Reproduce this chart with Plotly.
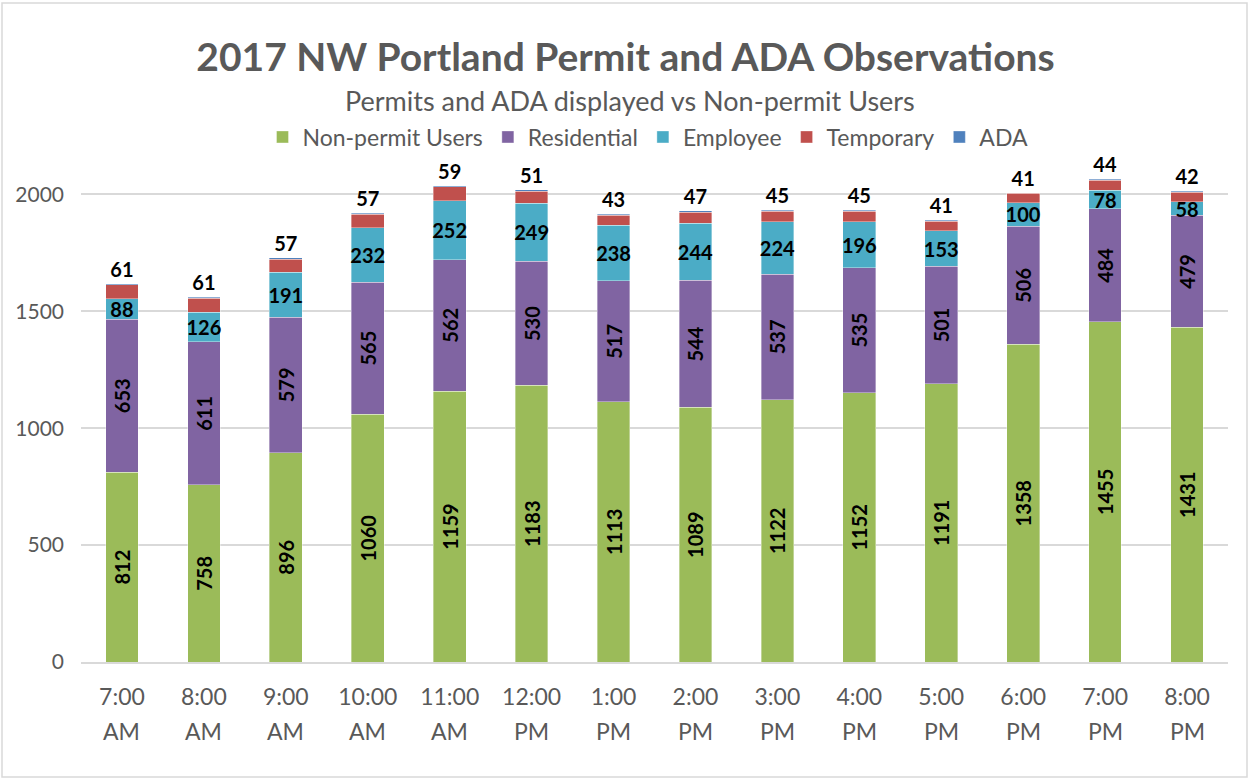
import plotly.graph_objects as go

hours = ["7:00", "8:00", "9:00", "10:00", "11:00", "12:00", "1:00", "2:00", "3:00", "4:00",
         "5:00", "6:00", "7:00", "8:00"]
periods = ["AM", "AM", "AM", "AM", "AM", "PM", "PM", "PM", "PM", "PM", "PM", "PM", "PM", "PM"]
categories = [f"{h} {p}" for h, p in zip(hours, periods)]
non_permit = [812, 758, 896, 1060, 1159, 1183, 1113, 1089, 1122, 1152, 1191, 1358, 1455, 1431]
residential = [653, 611, 579, 565, 562, 530, 517, 544, 537, 535, 501, 506, 484, 479]
employee = [88, 126, 191, 232, 252, 249, 238, 244, 224, 196, 153, 100, 78, 58]
temporary = [61, 61, 57, 57, 59, 51, 43, 47, 45, 45, 41, 41, 44, 42]
ada = [4, 4, 5, 5, 6, 7, 5, 5, 4, 5, 4, 3, 3, 4]

FONT = "Lato"
GRAY = "#595959"
label_font = dict(family=FONT, size=20, color="black", weight="bold")

PLOT_H = 491.0
PLOT_W = 1147.0

def py(px):
    return (662 - px) / PLOT_H

def pxp(px):
    return (px - 81) / PLOT_W

fig = go.Figure()
fig.add_trace(go.Bar(x=categories, y=non_permit, name="Non-permit Users", marker_color="#9BBB59",
                     text=non_permit, textposition="inside", textangle=-90, insidetextanchor="middle",
                     textfont=label_font))
fig.add_trace(go.Bar(x=categories, y=residential, name="Residential", marker_color="#8064A2",
                     text=residential, textposition="inside", textangle=-90, insidetextanchor="middle",
                     textfont=label_font))
fig.add_trace(go.Bar(x=categories, y=employee, name="Employee", marker_color="#4BACC6",
                     text=employee, textposition="inside", textangle=0, insidetextanchor="middle",
                     textfont=label_font))
fig.add_trace(go.Bar(x=categories, y=temporary, name="Temporary", marker_color="#C0504D"))
fig.add_trace(go.Bar(x=categories, y=ada, name="ADA", marker_color="#4F81BD",
                     text=temporary, textposition="outside", textangle=0,
                     outsidetextfont=label_font, cliponaxis=False))

fig.update_traces(marker_line_width=0.6, marker_line_color="rgba(255,255,255,0.6)")

annotations = [dict(text="Permits and ADA displayed vs Non-permit Users", xref="paper", yref="paper",
                    x=pxp(630), xanchor="center", y=py(100), yanchor="middle", showarrow=False,
                    font=dict(family=FONT, size=27, color=GRAY))]
for c, p in zip(categories, periods):
    annotations.append(dict(text=p, x=c, xref="x", y=py(731), yref="paper", yanchor="middle",
                            showarrow=False, font=dict(family=FONT, size=23, color=GRAY)))

fig.update_layout(
    barmode="stack",
    bargap=0.6,
    width=1251, height=780, autosize=False,
    margin=dict(l=81, r=23, t=171, b=118),
    paper_bgcolor="white", plot_bgcolor="white",
    font=dict(family=FONT, color=GRAY),
    uniformtext=dict(minsize=20, mode="show"),
    title=dict(text="<b>2017 NW Portland Permit and ADA Observations</b>", x=0.5, xanchor="center",
               y=1 - 57 / 780, yanchor="middle", font=dict(family=FONT, size=39, color=GRAY)),
    legend=dict(orientation="h", x=pxp(648), xanchor="center", y=py(137), yanchor="middle",
                traceorder="normal", font=dict(family=FONT, size=23, color=GRAY),
                bgcolor="rgba(0,0,0,0)"),
    annotations=annotations,
    xaxis=dict(tickmode="array", tickvals=categories, ticktext=hours,
               tickfont=dict(family=FONT, size=23, color=GRAY), showline=True, linecolor="#d9d9d9",
               linewidth=1.5, ticks="", showgrid=False, ticklabelstandoff=14),
    yaxis=dict(range=[0, 2100], tickvals=[0, 500, 1000, 1500, 2000], showgrid=True, gridcolor="#d9d9d9",
               gridwidth=1.5, zeroline=False, tickfont=dict(family=FONT, size=21, color=GRAY), ticks="",
               ticklabelstandoff=16),
    shapes=[dict(type="rect", xref="paper", yref="paper", x0=pxp(2), x1=pxp(1247),
                 y0=py(777), y1=py(3), line=dict(color="#d9d9d9", width=1.5))],
)

fig.write_html("out.html", config={"displayModeBar": False},
               post_script="document.body.style.margin='0';")
